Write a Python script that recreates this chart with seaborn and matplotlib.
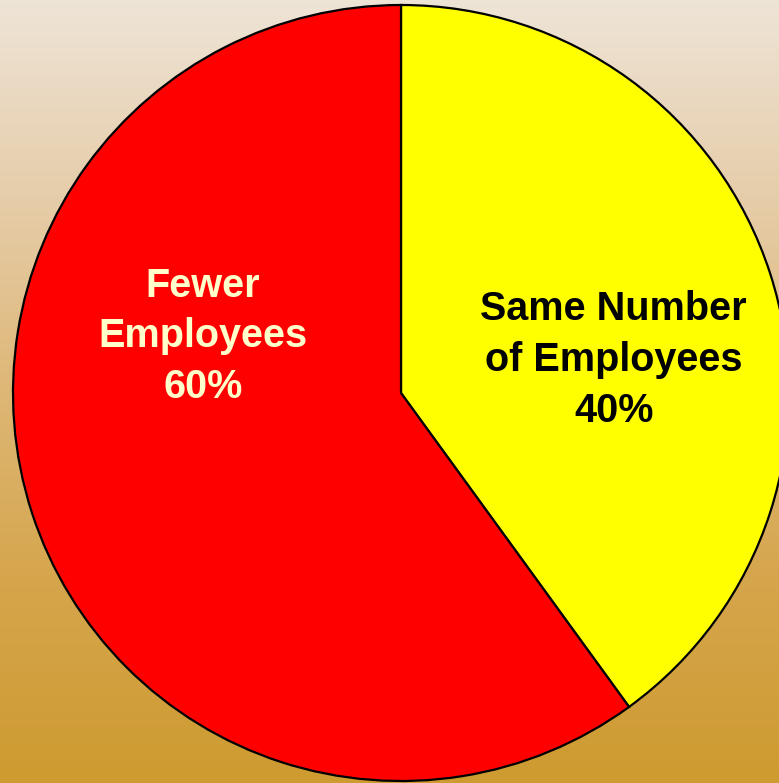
import numpy as np
import matplotlib
matplotlib.use("Agg")
import matplotlib.pyplot as plt
import seaborn as sns
from matplotlib.colors import LinearSegmentedColormap

sns.set_theme(style="white")
plt.rcParams['font.family'] = ['Liberation Sans', 'DejaVu Sans']

categories = ["Same Number\nof Employees", "Fewer\nEmployees"]
values = [40, 60]
colors = ["#FFFF00", "#FF0000"]
text_colors = ["#000000", "#FFFFCC"]

W, H = 779, 783
fig = plt.figure(figsize=(W / 100, H / 100), dpi=100)

# background gradient
bg = fig.add_axes([0, 0, 1, 1])
bg.axis("off")
cmap = LinearSegmentedColormap.from_list(
    "bg",
    [(0.0, (238/255, 228/255, 214/255)),
     (0.25, (230/255, 205/255, 170/255)),
     (0.5, (222/255, 183/255, 118/255)),
     (0.75, (213/255, 165/255, 75/255)),
     (1.0, (206/255, 155/255, 48/255))])
grad = np.linspace(0, 1, 256).reshape(-1, 1)
bg.imshow(grad, aspect="auto", cmap=cmap, extent=[0, 1, 0, 1], origin="upper")
bg.set_xlim(0, 1)
bg.set_ylim(0, 1)

cx, cy, r = 401, 393, 388
ax = fig.add_axes([(cx - r) / W, (H - cy - r) / H, 2 * r / W, 2 * r / H])
wedges, _ = ax.pie(values, colors=colors, startangle=90, counterclock=False,
                   wedgeprops=dict(edgecolor="black", linewidth=1.6))
ax.set_xlim(-1, 1)
ax.set_ylim(-1, 1)
ax.set_aspect("equal")
ax.axis("off")
for w in wedges:
    w.set_clip_on(False)

label_pos = [(0.548, 0.085), (-0.51, 0.146)]
for cat, v, tc, (x, y) in zip(categories, values, text_colors, label_pos):
    ax.text(x, y, f"{cat}\n{v}%", ha="center", va="center", color=tc,
            fontsize=28.5, fontweight="bold", linespacing=1.42,
            fontstretch="expanded")

fig.savefig("out.png", dpi=100)
